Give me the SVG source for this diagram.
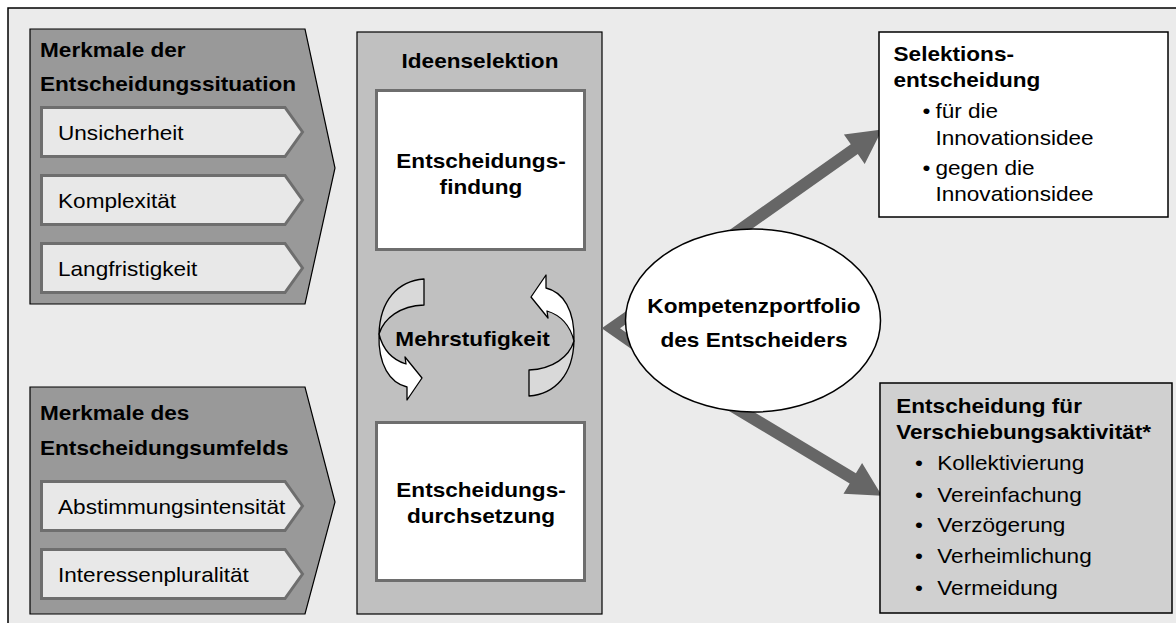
<svg xmlns="http://www.w3.org/2000/svg" width="1176" height="623" viewBox="0 0 1176 623">
<defs>
<style>
.t{font-family:"Liberation Sans",Arial,Helvetica,sans-serif;font-size:20px;fill:#000}
.b{font-weight:bold}
.m{text-anchor:middle}
.pent{fill:#999999;stroke:#000;stroke-width:1.2}
.chev{fill:#e8e8e8;stroke:#6e6e6e;stroke-width:3;stroke-linejoin:miter}
.ibox{fill:#fff;stroke:#6e6e6e;stroke-width:3}
.conn{fill:#666666;stroke:none}
.cback{fill:#d9d9d9;stroke:#000;stroke-width:1.3;stroke-linejoin:round}
.cfront{fill:#fff;stroke:#000;stroke-width:1.3;stroke-linejoin:round}
</style>
</defs>
<rect x="0" y="0" width="1176" height="623" fill="#fff"/>
<rect id="frame" x="8" y="8" width="1200" height="700" fill="#ebebeb" stroke="#000" stroke-width="1.5"/>

<g id="situation">
<path class="pent" d="M30,29 H305 L335,168 L305,304 H30 Z"/>
<text class="t b" transform="matrix(1.13 0 0 1 40 57)">Merkmale der</text>
<text class="t b" transform="matrix(1.13 0 0 1 40 91)">Entscheidungssituation</text>
<g id="unsicherheit"><path class="chev" d="M41.5,107.5 H285 L302.5,132 L285,156.5 H41.5 Z"/><text class="t" transform="matrix(1.13 0 0 1 58 140)">Unsicherheit</text></g>
<g id="komplexitaet"><path class="chev" d="M41.5,175.5 H285 L302.5,200 L285,224.5 H41.5 Z"/><text class="t" transform="matrix(1.13 0 0 1 58 208)">Komplexität</text></g>
<g id="langfristigkeit"><path class="chev" d="M41.5,243.5 H285 L302.5,268 L285,292.5 H41.5 Z"/><text class="t" transform="matrix(1.13 0 0 1 58 276)">Langfristigkeit</text></g>
</g>

<g id="umfeld">
<path class="pent" d="M30,387 H305 L335,502 L305,614 H30 Z"/>
<text class="t b" transform="matrix(1.13 0 0 1 40 420)">Merkmale des</text>
<text class="t b" transform="matrix(1.13 0 0 1 40 455)">Entscheidungsumfelds</text>
<g id="abstimmung"><path class="chev" d="M41.5,481.5 H285 L302.5,506 L285,530.5 H41.5 Z"/><text class="t" transform="matrix(1.13 0 0 1 58 514)">Abstimmungsintensität</text></g>
<g id="interessen"><path class="chev" d="M41.5,549.5 H285 L302.5,574 L285,598.5 H41.5 Z"/><text class="t" transform="matrix(1.13 0 0 1 58 582)">Interessenpluralität</text></g>
</g>

<g id="ideenselektion">
<rect x="357" y="32" width="245" height="582" fill="#c0c0c0" stroke="#000" stroke-width="1.2"/>
<text class="t b m" transform="matrix(1.13 0 0 1 480 68)">Ideenselektion</text>
<g id="findung">
<rect class="ibox" x="376.5" y="90.5" width="208" height="159"/>
<text class="t b m" transform="matrix(1.13 0 0 1 481 168)">Entscheidungs-</text>
<text class="t b m" transform="matrix(1.13 0 0 1 481 194)">findung</text>
</g>
<g id="durchsetzung">
<rect class="ibox" x="376.5" y="422.5" width="208" height="158"/>
<text class="t b m" transform="matrix(1.13 0 0 1 481 497)">Entscheidungs-</text>
<text class="t b m" transform="matrix(1.13 0 0 1 481 523)">durchsetzung</text>
</g>
<g id="mehrstufigkeit">
<g id="loop-left">
<path class="cback" d="M424,279 C398,281 380,300 379,334 C384,318 400,306 424,305 Z"/>
<path class="cfront" d="M379,334 C383,350 393,360 406,364 L405,357 L422,378 L407,400 L407,387 C390,383 378,365 379,334 Z"/>
</g>
<g id="loop-right" transform="rotate(180 476.5 337.5)">
<path class="cback" d="M424,279 C398,281 380,300 379,334 C384,318 400,306 424,305 Z"/>
<path class="cfront" d="M379,334 C383,350 393,360 406,364 L405,357 L422,378 L407,400 L407,387 C390,383 378,365 379,334 Z"/>
</g>
<text class="t b m" transform="matrix(1.13 0 0 1 472.5 346)">Mehrstufigkeit</text>
</g>
</g>

<g id="connectors">
<path class="conn" d="M601.7,328.3 L640,301.5 L640,314.3 L620,328.3 L640,342.3 L640,355.1 Z"/>
<path class="conn" d="M718.9,252.2 L857.8,154.1 L864.7,163.9 L882.1,129.6 L843.9,134.5 L850.8,144.3 L711.9,242.4 Z"/>
<path class="conn" d="M704,395.9 L849.7,483.4 L843.5,493.7 L881.9,495.8 L862.1,462.9 L855.9,473.2 L710.2,385.7 Z"/>
</g>

<g id="kompetenz">
<ellipse cx="753" cy="320.5" rx="127.5" ry="91.5" fill="#fff" stroke="#000" stroke-width="1.5"/>
<text class="t b m" transform="matrix(1.13 0 0 1 754 313)">Kompetenzportfolio</text>
<text class="t b m" transform="matrix(1.13 0 0 1 754 347)">des Entscheiders</text>
</g>

<g id="selektion">
<rect x="879" y="32" width="289" height="185" fill="#fff" stroke="#000" stroke-width="1.5"/>
<text class="t b" transform="matrix(1.13 0 0 1 893.5 61)">Selektions-</text>
<text class="t b" transform="matrix(1.13 0 0 1 893.5 87)">entscheidung</text>
<text class="t" transform="matrix(1.13 0 0 1 922.5 118)">•</text>
<text class="t" transform="matrix(1.13 0 0 1 935.4 118)">für die</text>
<text class="t" transform="matrix(1.13 0 0 1 935.4 144.5)">Innovationsidee</text>
<text class="t" transform="matrix(1.13 0 0 1 922.5 174.5)">•</text>
<text class="t" transform="matrix(1.13 0 0 1 935.4 174.5)">gegen die</text>
<text class="t" transform="matrix(1.13 0 0 1 935.4 201)">Innovationsidee</text>
</g>

<g id="verschiebung">
<rect x="880" y="383" width="292" height="230" fill="#d0d0d0" stroke="#000" stroke-width="1.5"/>
<text class="t b" transform="matrix(1.13 0 0 1 896.2 413)">Entscheidung für</text>
<text class="t b" transform="matrix(1.13 0 0 1 896.2 438.5)">Verschiebungsaktivität*</text>
<text class="t" transform="matrix(1.13 0 0 1 915 470)">•</text>
<text class="t" transform="matrix(1.13 0 0 1 937.3 470)">Kollektivierung</text>
<text class="t" transform="matrix(1.13 0 0 1 915 501.5)">•</text>
<text class="t" transform="matrix(1.13 0 0 1 937.3 501.5)">Vereinfachung</text>
<text class="t" transform="matrix(1.13 0 0 1 915 532)">•</text>
<text class="t" transform="matrix(1.13 0 0 1 937.3 532)">Verzögerung</text>
<text class="t" transform="matrix(1.13 0 0 1 915 563)">•</text>
<text class="t" transform="matrix(1.13 0 0 1 937.3 563)">Verheimlichung</text>
<text class="t" transform="matrix(1.13 0 0 1 915 594.5)">•</text>
<text class="t" transform="matrix(1.13 0 0 1 937.3 594.5)">Vermeidung</text>
</g>
</svg>
